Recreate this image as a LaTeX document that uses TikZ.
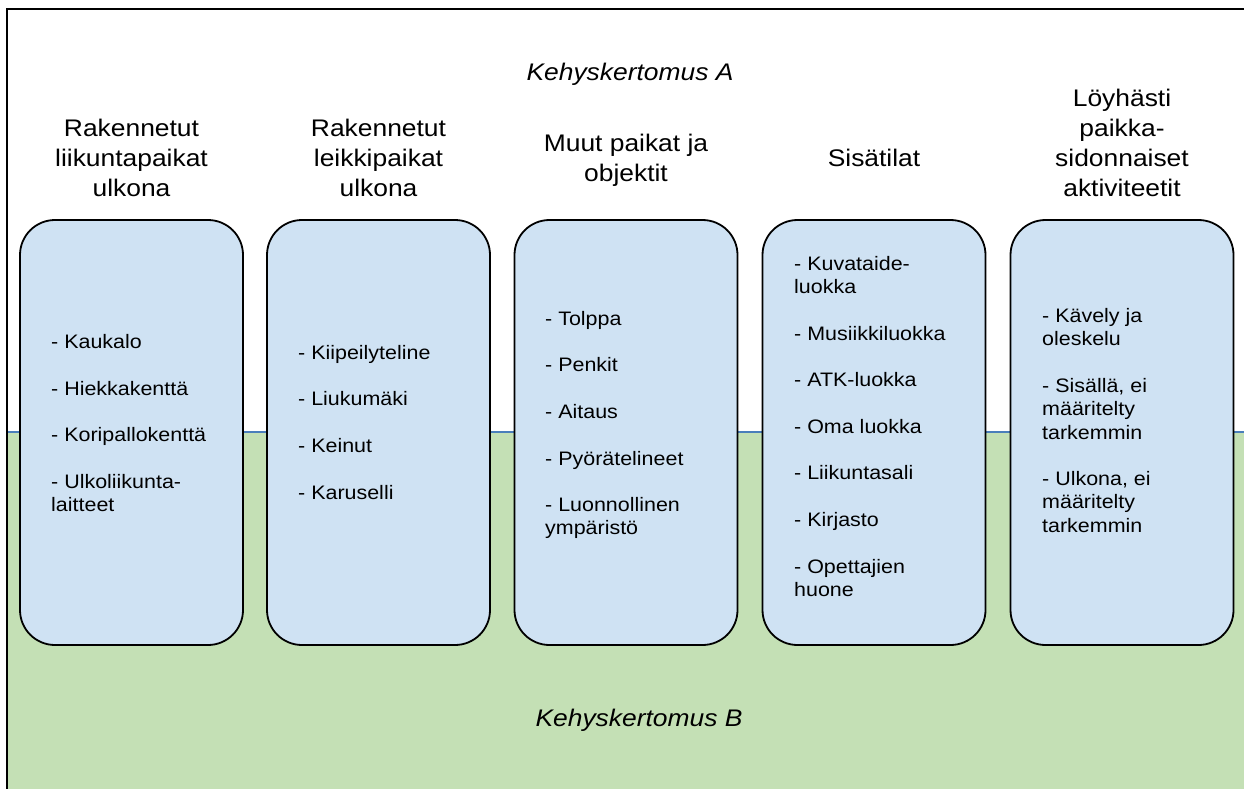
\documentclass[tikz,border=0pt]{standalone}
\usepackage{fontspec}
\setmainfont{Liberation Sans}[FakeStretch=1.1]
\definecolor{groundgreen}{RGB}{196,224,181}
\definecolor{boxblue}{RGB}{207,226,243}
\definecolor{edgeblue}{RGB}{74,126,187}
\begin{document}
\begin{tikzpicture}[x=1pt,y=-1pt,
  frameline/.style={line width=2pt,draw=black},
  catbox/.style={draw=black,line width=1.8pt,fill=boxblue,rounded corners=35pt,
    minimum width=223pt,minimum height=425pt,inner sep=0pt},
  hdr/.style={font=\fontsize{24}{30}\selectfont,align=center,anchor=north,inner sep=0pt},
  itemtext/.style={font=\fontsize{19.5}{23.3}\selectfont,align=left,anchor=north west,inner sep=0pt},
  frametitle/.style={font=\fontsize{24}{30}\selectfont\itshape,anchor=base,inner sep=0pt}]
\useasboundingbox (0,0) rectangle (1244,789);
% lower frame story area
\fill[groundgreen] (7,432) rectangle (1244,789);
\draw[edgeblue,line width=1.5pt] (7,432) -- (1244,432);
% outer frame
\draw[frameline] (7,789) -- (7,9) -- (1244,9);
% titles
\node[frametitle] (kA) at (630,81) {Kehyskertomus A};
\node[frametitle] (kB) at (639,726.7) {Kehyskertomus B};
% category boxes
\node[catbox] (b1) at (131.5,432.5) {};
\node[catbox] (b2) at (378.5,432.5) {};
\node[catbox] (b3) at (626,432.5) {};
\node[catbox] (b4) at (874,432.5) {};
\node[catbox] (b5) at (1122,432.5) {};
% headers
\node[hdr] (h1) at (131.5,115.7) {\strut Rakennetut\\liikuntapaikat\\ulkona};
\node[hdr] (h2) at (378.5,115.7) {\strut Rakennetut\\leikkipaikat\\ulkona};
\node[hdr] (h3) at (626,130.5) {\strut Muut paikat ja\\objektit};
\node[hdr] (h4) at (874,145.5) {\strut Sisätilat};
\node[hdr] (h5) at (1122,85.7) {\strut Löyhästi\\paikka-\\sidonnaiset\\aktiviteetit};
% box contents
\node[itemtext] (t1) at (51,332) {\strut - Kaukalo\\[23.3pt]- Hiekkakenttä\\[23.3pt]- Koripallokenttä\\[23.3pt]- Ulkoliikunta-\\laitteet};
\node[itemtext] (t2) at (298,342.7) {\strut - Kiipeilyteline\\[23.3pt]- Liukumäki\\[23.3pt]- Keinut\\[23.3pt]- Karuselli};
\node[itemtext] (t3) at (545,308.7) {\strut - Tolppa\\[23.3pt]- Penkit\\[23.3pt]- Aitaus\\[23.3pt]- Pyörätelineet\\[23.3pt]- Luonnollinen\\ympäristö};
\node[itemtext] (t4) at (794,253.7) {\strut - Kuvataide-\\luokka\\[23.3pt]- Musiikkiluokka\\[23.3pt]- ATK-luokka\\[23.3pt]- Oma luokka\\[23.3pt]- Liikuntasali\\[23.3pt]- Kirjasto\\[23.3pt]- Opettajien\\huone};
\node[itemtext] (t5) at (1042,306) {\strut - Kävely ja\\oleskelu\\[23.3pt]- Sisällä, ei\\määritelty\\tarkemmin\\[23.3pt]- Ulkona, ei\\määritelty\\tarkemmin};
\end{tikzpicture}
\end{document}
